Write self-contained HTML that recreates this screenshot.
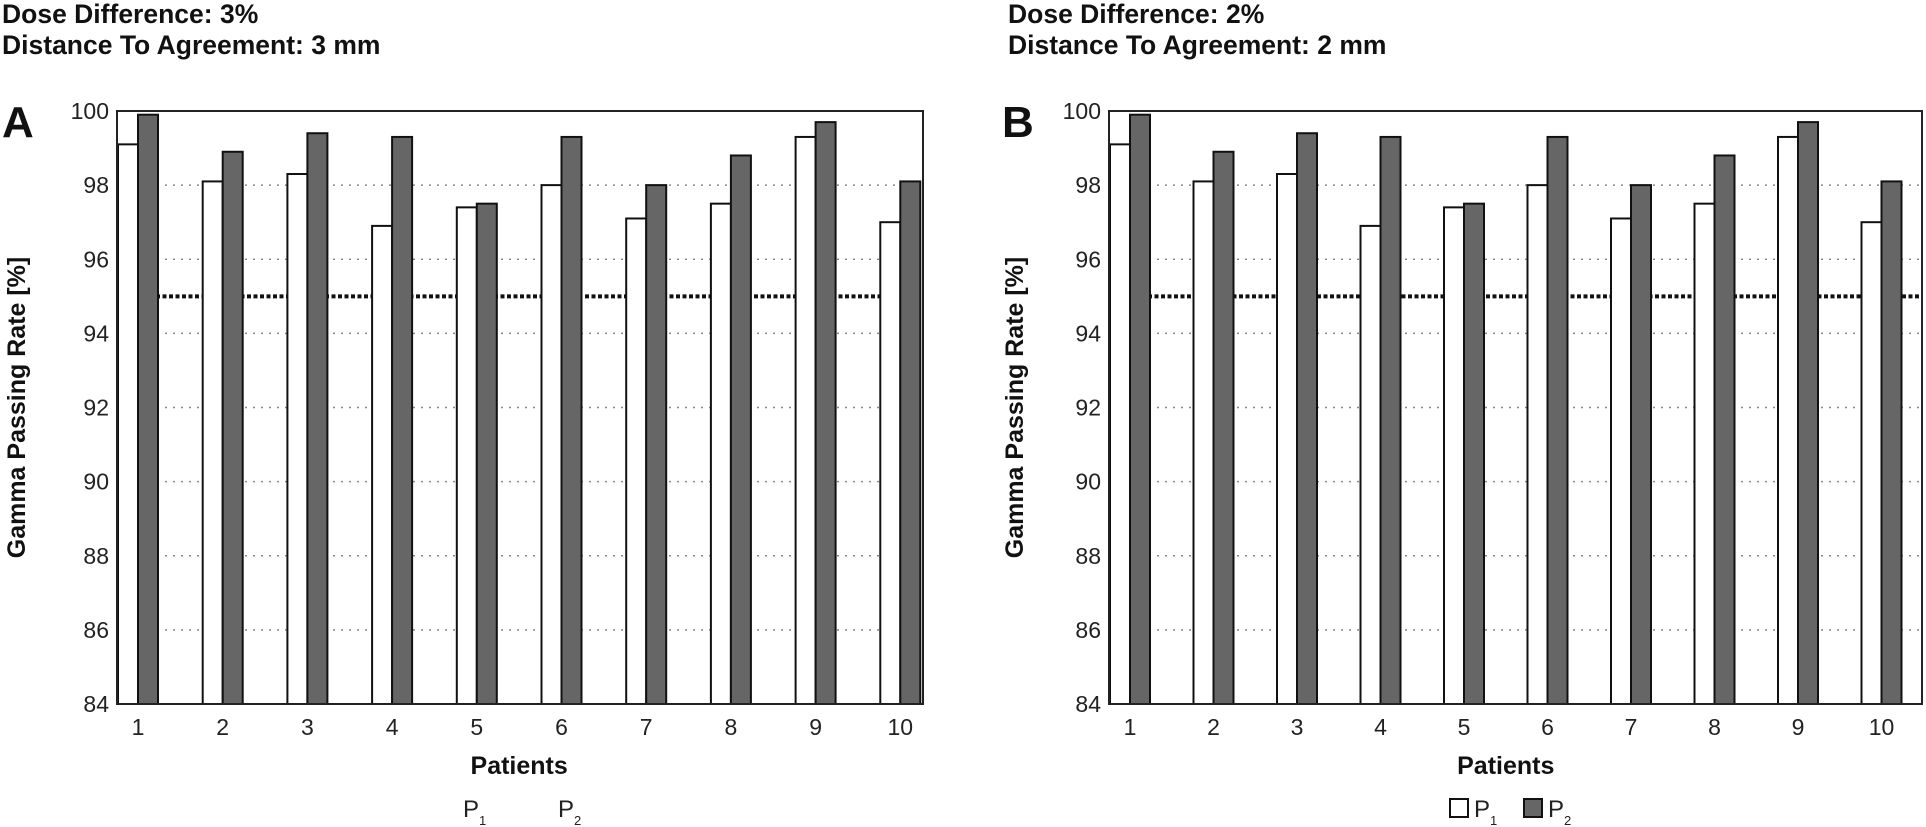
<!DOCTYPE html>
<html><head><meta charset="utf-8">
<style>
html,body{margin:0;padding:0;background:#fff;}
svg{display:block;font-family:"Liberation Sans",sans-serif;}
</style></head>
<body>
<svg id="chart" width="1926" height="827" viewBox="0 0 1926 827"></svg>
<script>
const categories = ["1","2","3","4","5","6","7","8","9","10"];
const p1ValuesA = [99.1, 98.1, 98.3, 96.9, 97.4, 98.0, 97.1, 97.5, 99.3, 97.0];
const p2ValuesA = [99.9, 98.9, 99.4, 99.3, 97.5, 99.3, 98.0, 98.8, 99.7, 98.1];
const p1ValuesB = [99.1, 98.1, 98.3, 96.9, 97.4, 98.0, 97.1, 97.5, 99.3, 97.0];
const p2ValuesB = [99.9, 98.9, 99.4, 99.3, 97.5, 99.3, 98.0, 98.8, 99.7, 98.1];
const yTicks = [84, 86, 88, 90, 92, 94, 96, 98, 100];
const threshold = 95;

const NS = "http://www.w3.org/2000/svg";
const svg = document.getElementById('chart');
function mk(tag, attrs, parent, text){
  const e = document.createElementNS(NS, tag);
  for (const k in attrs) e.setAttribute(k, attrs[k]);
  if (text !== undefined) e.textContent = text;
  (parent || svg).appendChild(e);
  return e;
}

function panel(opts){
  const g = mk('g', {});
  
  
  const L = opts.left, R = opts.right, T = 111, B = 704;
  const yMin = 84, yMax = 100;
  const y = v => B - (v - yMin) / (yMax - yMin) * (B - T);
  const band = opts.band;
  const cx = i => L + 21 + i * band;
  const bw = 20;

  const t1 = mk('text', {x: opts.titleX, y: 23, 'font-size': 26.5, 'font-weight': 'bold', fill: '#111'}, g, opts.title1);
  
  
  const t2 = mk('text', {x: opts.titleX, y: 54, 'font-size': 26.5, 'font-weight': 'bold', fill: '#111'}, g, opts.title2);
  
  
  const pl = mk('text', {x: opts.letterX, y: 137, 'font-size': 44, 'font-weight': 'bold', fill: '#111'}, g, opts.id.toUpperCase());
  
  

  yTicks.forEach(v => {
    if (v === yMin || v === yMax) return;
    const gl = mk('line', {x1: L, x2: R, y1: y(v), y2: y(v), stroke: '#888', 'stroke-width': 1.5, 'stroke-dasharray': '2 6'}, g);
    
    
  });
  const th = mk('line', {x1: L, x2: R, y1: y(threshold), y2: y(threshold), stroke: '#111', 'stroke-width': 4, 'stroke-dasharray': '4 2.5'}, g);
  
  

  categories.forEach((c, i) => {
    const c0 = cx(i);
    const b1 = mk('rect', {x: c0 - bw, y: y(opts.p1[i]), width: bw, height: B - y(opts.p1[i]), fill: '#fff', stroke: '#111', 'stroke-width': 2}, g);
    
    
    const b2 = mk('rect', {x: c0, y: y(opts.p2[i]), width: bw, height: B - y(opts.p2[i]), fill: '#666', stroke: '#111', 'stroke-width': 2}, g);
    
    
    const tl = mk('text', {x: c0, y: 735, 'text-anchor': 'middle', 'font-size': 23, fill: '#222'}, g, c);
    
    
  });

  const fr = mk('rect', {x: L, y: T, width: R - L, height: B - T, fill: 'none', stroke: '#222', 'stroke-width': 2}, g);
  
  

  yTicks.forEach(v => {
    const yl = mk('text', {x: L - 8, y: y(v) + 8, 'text-anchor': 'end', 'font-size': 23, fill: '#222'}, g, String(v));
    
    
  });

  const yt = mk('text', {x: 0, y: 0, 'text-anchor': 'middle', 'font-size': 25, 'font-weight': 'bold', fill: '#111', transform: `translate(${opts.yTitleX},${(T + B) / 2}) rotate(-90)`}, g, 'Gamma Passing Rate [%]');
  
  
  const xt = mk('text', {x: (cx(0) + cx(9)) / 2, y: 774, 'text-anchor': 'middle', 'font-size': 25, 'font-weight': 'bold', fill: '#111'}, g, 'Patients');
  
  

  opts.legend.forEach(le => {
    const lg = mk('g', {}, g);
    
    
    if (le.box) {
      const bx = mk('rect', {x: le.x - 24, y: 799, width: 18, height: 18, fill: le.fill, stroke: '#111', 'stroke-width': 2}, lg);
      
      
    }
    const tx = mk('text', {x: le.x, y: 817, 'font-size': 24, fill: '#222'}, lg, 'P');
    
    
    const sb = mk('text', {x: le.x + 16, y: 825, 'font-size': 13, fill: '#222'}, lg, le.label.slice(1));
    
    
  });
}

panel({id: 'a', left: 117, right: 923, band: 84.7, titleX: 2, letterX: 2, yTitleX: 25, title1: 'Dose Difference: 3%', title2: 'Distance To Agreement: 3 mm',
  p1: p1ValuesA, p2: p2ValuesA,
  legend: [{label: 'P1', x: 463, box: false}, {label: 'P2', x: 558, box: false}]});
panel({id: 'b', left: 1109, right: 1922, band: 83.5, titleX: 1008, letterX: 1002, yTitleX: 1023, title1: 'Dose Difference: 2%', title2: 'Distance To Agreement: 2 mm',
  p1: p1ValuesB, p2: p2ValuesB,
  legend: [{label: 'P1', x: 1474, box: true, fill: '#fff'}, {label: 'P2', x: 1548, box: true, fill: '#666'}]});
</script>
</body></html>
